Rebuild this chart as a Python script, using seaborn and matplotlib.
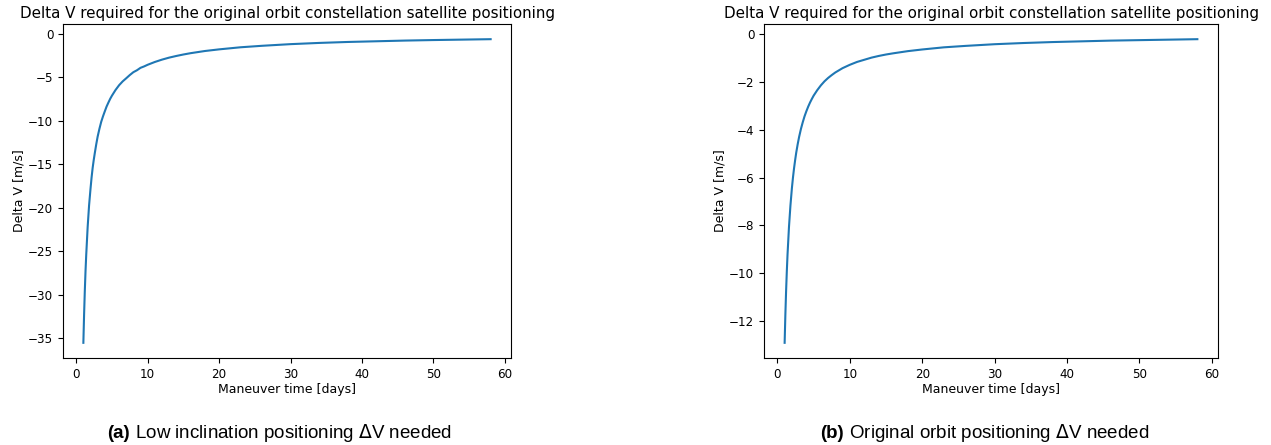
import matplotlib
matplotlib.use("Agg")
import matplotlib.pyplot as plt
import seaborn as sns
import pandas as pd

# Maneuver duration in days
days = [1, 1.1, 1.2, 1.3, 1.4, 1.6, 1.8, 2, 2.15, 2.3, 2.45, 2.6, 2.8, 3, 3.25,
        3.5, 3.75, 4, 4.25, 4.5, 4.75, 5, 5.5, 6, 6.5, 7, 7.5, 8, 8.5, 9, 9.5,
        10, 11, 12, 13, 14, 15, 16, 18, 20, 23, 26, 30, 34, 38, 42, 46, 50, 54, 58]

# Required delta-V [m/s], low inclination positioning
dv_low_incl = [-35.5, -32.3, -29.6, -27.3, -25.4, -22.2, -19.7, -17.8, -16.5,
               -15.4, -14.5, -13.7, -12.7, -11.8, -10.9, -10.1, -9.47, -8.9,
               -8.35, -7.9, -7.47, -7.1, -6.45, -5.9, -5.46, -5.1, -4.73, -4.4,
               -4.18, -3.9, -3.74, -3.55, -3.23, -2.96, -2.73, -2.54, -2.37,
               -2.22, -1.97, -1.78, -1.54, -1.37, -1.18, -1.04, -0.93, -0.85,
               -0.77, -0.71, -0.66, -0.61]

# Required delta-V [m/s], original orbit positioning
dv_orig_orbit = [-12.9, -11.73, -10.75, -9.92, -9.21, -8.06, -7.17, -6.45, -6.0,
                 -5.61, -5.27, -4.96, -4.61, -4.30, -3.97, -3.69, -3.44, -3.23,
                 -3.04, -2.87, -2.72, -2.58, -2.35, -2.15, -1.98, -1.84, -1.72,
                 -1.61, -1.52, -1.43, -1.36, -1.29, -1.17, -1.08, -0.99, -0.92,
                 -0.86, -0.81, -0.72, -0.65, -0.56, -0.50, -0.43, -0.38, -0.34,
                 -0.31, -0.28, -0.26, -0.24, -0.22]

title = "Delta V required for the original orbit constellation satellite positioning"
xlabel = "Maneuver time [days]"
ylabel = "Delta V [m/s]"
captions = [("(a)", " Low inclination positioning $\\Delta$V needed"),
            ("(b)", " Original orbit positioning $\\Delta$V needed")]

df = pd.DataFrame({"days": days, "low": dv_low_incl, "orig": dv_orig_orbit})

W, H = 1271, 445
fig = plt.figure(figsize=(W / 100, H / 100), dpi=100)

def px_axes(x0, x1, y0, y1):
    return fig.add_axes([x0 / W, 1 - y1 / H, (x1 - x0) / W, (y1 - y0) / H])

ax1 = px_axes(63, 511, 24, 358)
ax2 = px_axes(764, 1218, 24, 358)

for ax, col, yt in [(ax1, "low", [0, -5, -10, -15, -20, -25, -30, -35]),
                    (ax2, "orig", [0, -2, -4, -6, -8, -10, -12])]:
    sns.lineplot(data=df, x="days", y=col, ax=ax, color="#1f77b4", linewidth=1.5)
    ax.set_title(title, fontsize=10.9, pad=4)
    ax.set_xlabel(xlabel, fontsize=9, labelpad=2)
    ax.set_ylabel(ylabel, fontsize=9, labelpad=2)
    ax.set_xticks([0, 10, 20, 30, 40, 50, 60])
    ax.set_yticks(yt)
    ax.tick_params(labelsize=8.6, length=3.5)
    for s in ax.spines.values():
        s.set_linewidth(0.8)

# Sub-figure captions: bold tag followed by regular text on one baseline
cap_font = ["Liberation Sans", "DejaVu Sans"]
renderer = fig.canvas.get_renderer()
for (bold, rest), xl in zip(captions, [107, 820]):
    y = 1 - 438 / H
    t = fig.text(xl / W, y, bold, fontsize=13.5, fontweight="bold",
                 family=cap_font, va="baseline", ha="left")
    x1 = t.get_window_extent(renderer).x1 / W
    fig.text(x1, y, rest, fontsize=13.5, family=cap_font,
             va="baseline", ha="left")

fig.savefig("out.png", dpi=100)
